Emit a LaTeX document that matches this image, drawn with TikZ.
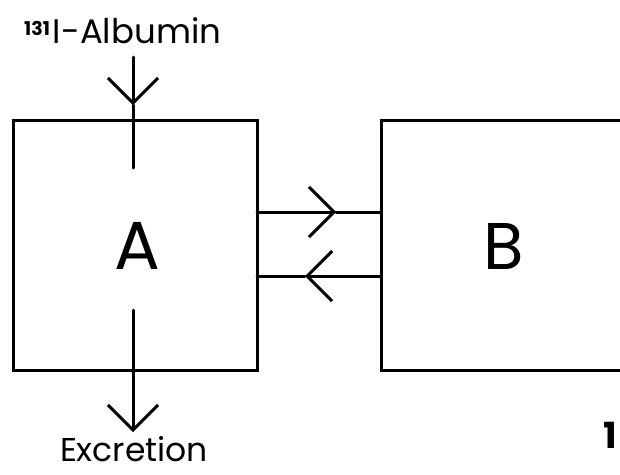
\documentclass[tikz,border=0pt]{standalone}
\usepackage{fontspec}
\setmainfont{Poppins}
\usetikzlibrary{arrows.meta}
\tikzset{
  line/.style={line width=3pt, line cap=round, line join=miter},
  barb/.style={line, -{Straight Barb[length=25pt,width=50pt,line width=3pt]}},
  box/.style={line, draw, rectangle},
}
\begin{document}
\begin{tikzpicture}[x=1pt,y=-1pt]
\useasboundingbox (0,0) rectangle (620,474);
\clip (0,0) rectangle (620,474);
% boxes
\draw[box] (13,120) rectangle (257,370);
\draw[box] (381,120) rectangle (660,370);
\node (A) at (137,246) {\fontsize{68}{68}\selectfont A};
\node (B) at (504,246) {\fontsize{66}{66}\selectfont B};
\coordinate (Ae) at (257,212);
\coordinate (Be) at (381,212);
\coordinate (Ae2) at (257,276);
\coordinate (Be2) at (381,276);
% labels
\node[anchor=base west, inner sep=0pt] (alb) at (24,43) {{\fontsize{19}{19}\selectfont\bfseries\raisebox{8pt}{131}}\hspace{3pt}{\fontsize{34}{34}\selectfont I-Albumin}};
\node[anchor=base, inner sep=0pt] (exc) at (134,461) {\fontsize{33}{33}\selectfont Excretion};
\node[anchor=base east, inner sep=0pt] (one) at (617,448) {\fontsize{36}{36}\selectfont\bfseries 1};
% input arrow
\coordinate (inTop) at (133,57);
\coordinate (inTip) at (133,105);
\coordinate (inEnd) at (133,168);
\draw[barb] (inTop) -- (inTip);
\draw[line] (inTip) -- (inEnd);
% excretion arrow
\coordinate (outStart) at (133,310);
\coordinate (outTip) at (133,432);
\draw[barb] (outStart) -- (outTip);
% exchange arrows
\coordinate (t1) at (336,212);
\coordinate (t2) at (305,276);
\draw[barb] (Ae) -- (t1);
\draw[line] (t1) -- (Be);
\draw[barb] (Be2) -- (t2);
\draw[line] (t2) -- (Ae2);
\end{tikzpicture}
\end{document}
